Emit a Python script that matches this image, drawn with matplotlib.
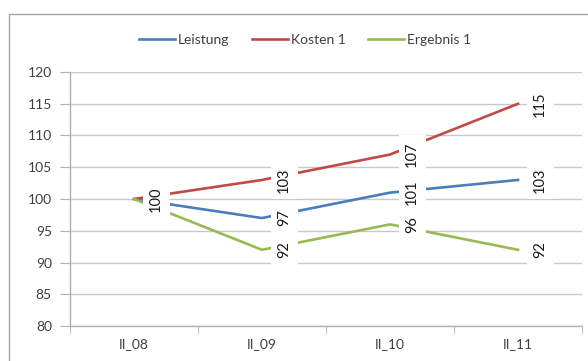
import numpy as np
import matplotlib.pyplot as plt
from matplotlib.patches import Rectangle

# quarters and index values (II_08 = 100)
quarters = ['II_08', 'II_09', 'II_10', 'II_11']
leistung = [100, 97, 101, 103]
kosten = [100, 103, 107, 115]
ergebnis = [100, 92, 96, 92]

series = [
    ('Leistung', leistung, '#4A7EBB'),
    ('Kosten 1', kosten, '#BE4B48'),
    ('Ergebnis 1', ergebnis, '#98B954'),
]

plt.rcParams['font.family'] = ['Lato', 'DejaVu Sans']

fig = plt.figure(figsize=(5.88, 3.61), dpi=100)
ax = fig.add_axes([70 / 588, 1 - 326 / 361, 512 / 588, 254 / 361])

# chart frame
fig.patches.append(Rectangle((9 / 588, -0.1), 1.2, 1 - 14 / 361 + 0.1,
                             transform=fig.transFigure, fill=False,
                             edgecolor='#a6a6a6', linewidth=1.0))

x = np.arange(len(quarters))
for name, vals, col in series:
    ax.plot(x, vals, color=col, linewidth=1.9, label=name, zorder=3,
            solid_joinstyle='round')

# value labels, rotated, to the right of each point
for name, vals, col in series:
    for xi, v in zip(x, vals):
        if name != 'Leistung' and xi == 0:
            continue
        ax.annotate(str(v), (xi, v), xytext=(16, 0), textcoords='offset points',
                    rotation=90, ha='center', va='center', fontsize=10.5,
                    color='#1a1a1a', zorder=5,
                    bbox=dict(boxstyle='square,pad=0.45', fc='white', ec='none'))

ax.set_xlim(-0.5, 3.5)
ax.set_ylim(80, 120)
ax.set_yticks(np.arange(80, 121, 5))
ax.set_xticks(x)
ax.set_xticklabels(quarters)
ax.set_xticks(np.arange(-0.5, 3.6, 1), minor=True)

ax.grid(axis='y', color='#c8c8c8', linewidth=1.0)
ax.set_axisbelow(True)
for s in ['top', 'right']:
    ax.spines[s].set_visible(False)
for s in ['left', 'bottom']:
    ax.spines[s].set_color('#b0b0b0')
    ax.spines[s].set_linewidth(1.0)

ax.tick_params(axis='y', length=7, color='#b0b0b0', labelsize=10,
               labelcolor='#404040', pad=6)
ax.tick_params(axis='x', which='major', length=0, labelsize=10,
               labelcolor='#404040', pad=9)
ax.tick_params(axis='x', which='minor', length=5, color='#b0b0b0')

fig.legend(loc='center', bbox_to_anchor=(305 / 588, 1 - 40 / 361), ncol=3,
           frameon=False, fontsize=10, handlelength=2.6, columnspacing=1.6,
           handletextpad=0.2, labelcolor='#404040')

fig.savefig('out.png', dpi=100)
